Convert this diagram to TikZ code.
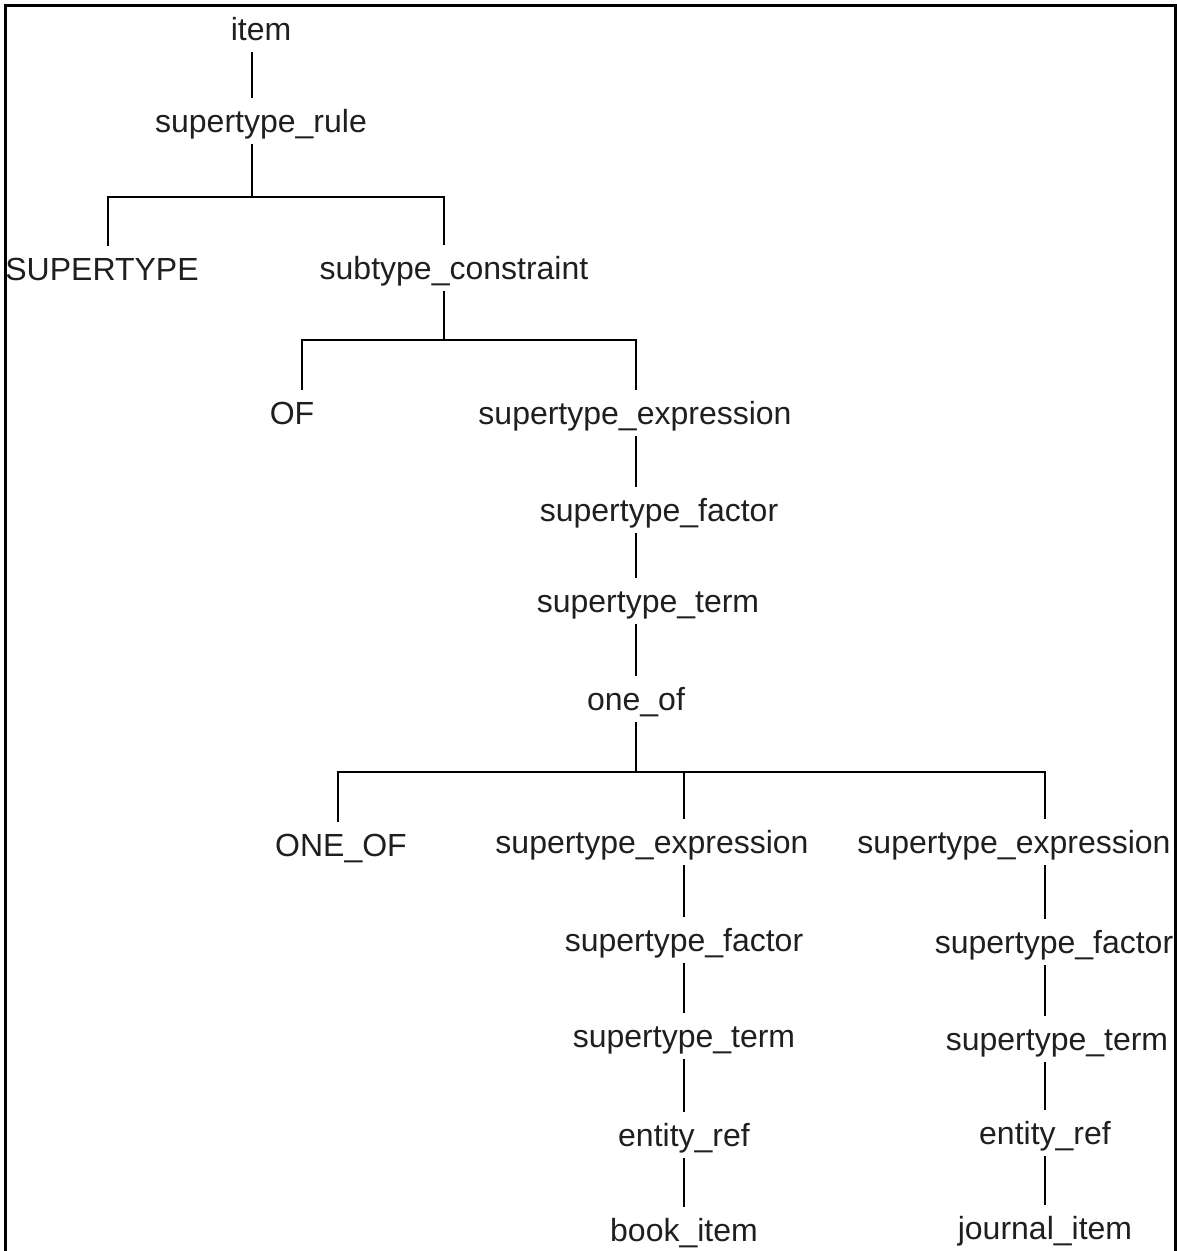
\documentclass[tikz,border=0pt]{standalone}
\usepackage{fontspec}
\setmainfont{Liberation Sans}
\begin{document}
\begin{tikzpicture}[x=1pt,y=-1pt,
  lbl/.style={anchor=base,inner xsep=0pt,inner ysep=5pt,text height=29pt,text depth=7pt,
    font=\fontsize{32}{38}\selectfont,text=black!88},
  edge/.style={draw=black,line width=1.4pt},
  frame/.style={draw=black,line width=3pt}]
\useasboundingbox (0,0) rectangle (1177,1251);
% outer frame (open at the bottom)
\draw[frame] (5,1251) -- (5,5) -- (1175,5) -- (1175,1251);

% labels
\node[lbl] (item) at (261,40) {item};
\node[lbl] (rule) at (261,132) {supertype\_rule};
\node[lbl] (SUP)  at (102,280) {SUPERTYPE};
\node[lbl] (sub)  at (454,279) {subtype\_constraint};
\node[lbl] (OF)   at (292,424) {OF};
\node[lbl] (seA)  at (635,424) {supertype\_expression};
\node[lbl] (sfA)  at (659,521) {supertype\_factor};
\node[lbl] (stA)  at (648,612) {supertype\_term};
\node[lbl] (one)  at (636,710) {one\_of};
\node[lbl] (ONE)  at (341,856) {ONE\_OF};
\node[lbl] (seB)  at (652,853) {supertype\_expression};
\node[lbl] (seC)  at (1014,853) {supertype\_expression};
\node[lbl] (sfB)  at (684,951) {supertype\_factor};
\node[lbl] (stB)  at (684,1047) {supertype\_term};
\node[lbl] (erB)  at (684,1146) {entity\_ref};
\node[lbl] (book) at (684,1241) {book\_item};
\node[lbl] (sfC)  at (1054,953) {supertype\_factor};
\node[lbl] (stC)  at (1057,1050) {supertype\_term};
\node[lbl] (erC)  at (1045,1144) {entity\_ref};
\node[lbl] (jour) at (1045,1239) {journal\_item};

% branch points of the three fork bars
\coordinate (barA) at (252,197);
\coordinate (barAl) at (108,197);
\coordinate (barAr) at (444,197);
\coordinate (barB) at (444,340);
\coordinate (barBl) at (302,340);
\coordinate (barBr) at (636,340);
\coordinate (barC) at (636,772);
\coordinate (barCl) at (338,772);
\coordinate (barCm) at (684,772);
\coordinate (barCr) at (1045,772);

% item -> supertype_rule -> fork
\draw[edge] (item.south -| barA) -- (rule.north -| barA);
\draw[edge] (rule.south -| barA) -- (barA);
\draw[edge] (SUP.north -| barAl) -- (barAl) -- (barAr) -- (sub.north -| barAr);

% subtype_constraint -> fork
\draw[edge] (sub.south -| barB) -- (barB);
\draw[edge] (OF.north -| barBl) -- (barBl) -- (barBr) -- (seA.north -| barBr);

% chain down to one_of
\draw[edge] (seA.south -| barBr) -- (sfA.north -| barBr);
\draw[edge] (sfA.south -| barBr) -- (stA.north -| barBr);
\draw[edge] (stA.south -| barBr) -- (one.north -| barBr);
\draw[edge] (one.south -| barC) -- (barC);

% one_of fork
\draw[edge] (ONE.north -| barCl) -- (barCl) -- (barCr) -- (seC.north -| barCr);
\draw[edge] (barCm) -- (seB.north -| barCm);

% book_item branch
\draw[edge] (seB.south -| barCm) -- (sfB.north -| barCm);
\draw[edge] (sfB.south -| barCm) -- (stB.north -| barCm);
\draw[edge] (stB.south -| barCm) -- (erB.north -| barCm);
\draw[edge] (erB.south -| barCm) -- (book.north -| barCm);

% journal_item branch
\draw[edge] (seC.south -| barCr) -- (sfC.north -| barCr);
\draw[edge] (sfC.south -| barCr) -- (stC.north -| barCr);
\draw[edge] (stC.south -| barCr) -- (erC.north -| barCr);
\draw[edge] (erC.south -| barCr) -- (jour.north -| barCr);
\end{tikzpicture}
\end{document}
